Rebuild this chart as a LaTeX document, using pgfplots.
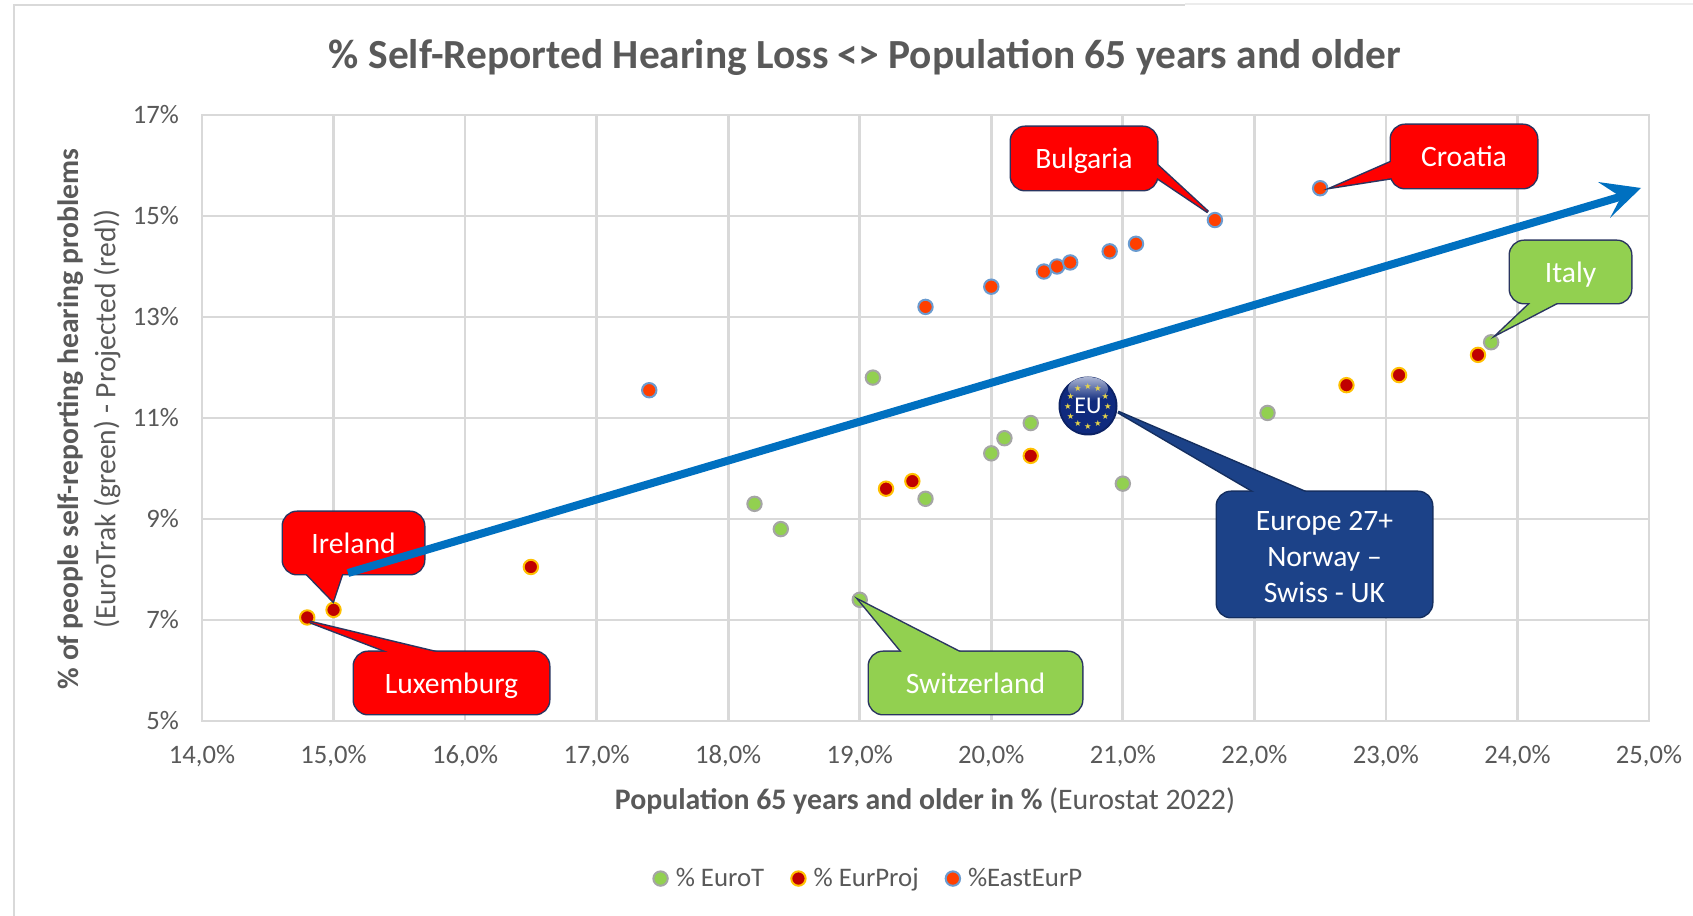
\documentclass[border=0pt]{standalone}
\usepackage{fontspec}
\usepackage{pgfplots}
\pgfplotsset{compat=1.18}
\setmainfont{Carlito}
\newfontfamily\dejavu{DejaVu Sans}
\definecolor{txt}{HTML}{595959}
\definecolor{grd}{HTML}{D9D9D9}
\definecolor{grn}{HTML}{92D050}
\definecolor{arrowblue}{HTML}{0070C0}
\definecolor{navy}{HTML}{1C4288}
\definecolor{edge}{HTML}{2A3560}
\definecolor{eub}{HTML}{0F2A7E}
\definecolor{eustar}{HTML}{E6D44A}
\definecolor{pjfill}{HTML}{C00000}
\definecolor{pjedge}{HTML}{FFC000}
\definecolor{eafill}{HTML}{FF3F00}
\definecolor{eaedge}{HTML}{6A9BD0}
\definecolor{gredge}{HTML}{A5A5A5}
\newcommand{\callout}[8]{%
  \draw[#2,line width=1.5pt,rounded corners=7pt] (#3,#4) rectangle (#5,#6);
  \draw[#2,line width=1.5pt,line join=miter] #7 -- cycle;
  \fill[#1,rounded corners=7pt] (#3,#4) rectangle (#5,#6);
  \fill[#1] #7 -- cycle;
  \node[text=white,font=\fontsize{14.8}{18}\selectfont,align=center,inner sep=0pt] at ({(#3+#5)/2},{(#4+#6)/2+3}) {#8};
}
\begin{document}
\begin{tikzpicture}
\useasboundingbox (0,0) rectangle (846.5pt,458pt);
\fill[white] (0,0) rectangle (846.5pt,458pt);
\begin{scope}[shift={(0,458pt)},x=0.5pt,y=-0.5pt]
  \draw[grd,line width=1pt] (14,916) -- (14,5) -- (1185,5);
  \draw[grd!50,line width=0.6pt] (1185,4) -- (1693,4);
\end{scope}
\begin{axis}[
  at={(101pt,97.5pt)},anchor=south west,
  scale only axis,width=723.5pt,height=303pt,
  xmin=14,xmax=25,ymin=5,ymax=17,
  xtick={14,...,25},ytick={5,7,9,11,13,15,17},
  xticklabels={14{,}0\%,15{,}0\%,16{,}0\%,17{,}0\%,18{,}0\%,19{,}0\%,20{,}0\%,21{,}0\%,22{,}0\%,23{,}0\%,24{,}0\%,25{,}0\%},
  yticklabels={5\%,7\%,9\%,11\%,13\%,15\%,17\%},
  grid=major,
  major grid style={grd,line width=1.4pt},
  axis line style={grd,line width=1.4pt},
  tick style={draw=none},
  tick label style={text=txt,font=\fontsize{13.3}{15}\selectfont},
  xticklabel style={yshift=-8.5pt},
  yticklabel style={xshift=-8pt},
  clip=false,
  legend style={at={(0.4615,-0.26)},anchor=center,draw=none,fill=none,
    font=\fontsize{13.4}{15}\selectfont,text=txt,
    legend columns=-1,
    /tikz/every even column/.append style={column sep=11.5pt},
    /tikz/every odd column/.append style={column sep=2pt}},
  legend cell align=left,
]
\addplot[only marks,mark=*,mark size=3.6pt,mark options={fill=grn,draw=gredge,line width=1pt}] coordinates {
 (19.1,11.8)(18.2,9.3)(18.4,8.8)(19.5,9.4)(19.0,7.4)(20.0,10.3)(20.1,10.6)(20.3,10.9)(21.0,9.7)(22.1,11.1)(23.8,12.5)};
\addlegendentry{\% EuroT}
\addplot[only marks,mark=*,mark size=3.6pt,mark options={fill=pjfill,draw=pjedge,line width=1pt}] coordinates {
 (14.8,7.05)(15.0,7.2)(16.5,8.05)(19.2,9.6)(19.4,9.75)(20.3,10.25)(22.7,11.65)(23.1,11.85)(23.7,12.25)};
\addlegendentry{\% EurProj}
\addplot[only marks,mark=*,mark size=3.6pt,mark options={fill=eafill,draw=eaedge,line width=1pt}] coordinates {
 (17.4,11.55)(19.5,13.2)(20.0,13.6)(20.4,13.9)(20.5,14.0)(20.6,14.08)(20.9,14.3)(21.1,14.45)(21.7,14.92)(22.5,15.55)};
\addlegendentry{\%EastEurP}
\end{axis}
\begin{scope}[shift={(0,458pt)},x=0.5pt,y=-0.5pt]
  % text
  \node[text=txt,font=\fontsize{20.7}{24}\bfseries\selectfont] at (865,57) {\% Self-Reported Hearing Loss <> Population 65 years and older};
  \node[text=txt,font=\fontsize{14.9}{18}\selectfont] at (925,801) {\textbf{Population 65 years and older in \%} (Eurostat 2022)};
  \node[text=txt,font=\fontsize{14.8}{18}\selectfont,rotate=90] at (71,419) {\textbf{\% of people self-reporting hearing problems}};
  \node[text=txt,font=\fontsize{14.8}{18}\selectfont,rotate=90] at (107,419) {(EuroTrak (green) - Projected (red))};
  % callouts
  \callout{red}{edge}{1011}{127}{1157}{190}{(1150,158.5) -- (1208,212) -- (1150,173)}{\strut Bulgaria}
  \callout{red}{edge}{1391}{125}{1537}{188}{(1398,159) -- (1334,187) -- (1398,177)}{\strut Croatia}
  \callout{grn}{edge}{1510}{241}{1631}{303}{(1538,296) -- (1499,333) -- (1570,296)}{\strut Italy}
  \callout{red}{edge}{283}{512}{424}{574}{(301,568) -- (333,601) -- (344,568)}{\strut Ireland}
  \callout{red}{edge}{354}{652}{549}{714}{(404,658) -- (310,622) -- (460,658)}{\strut Luxemburg}
  \callout{grn}{edge}{869}{652}{1082}{714}{(907,658) -- (860,601) -- (971,658)}{\strut Switzerland}
  \callout{navy}{navy!70!black}{1217}{492}{1432}{617}{(1265,498) -- (1118,412) -- (1319,498)}{Europe 27+\\Norway --\\Swiss - UK}
  % EU badge
  \fill[eub!80!black] (1088,406) circle (29.5);
  \fill[eub] (1088,406) circle (27.5);
  \shade[top color=eub!35!white,bottom color=eub] (1088,389) ellipse (20 and 12);
  \foreach \a in {0,30,...,330}
    \node[text=eustar,font=\dejavu\fontsize{4.2}{5}\selectfont,inner sep=0pt] at ({1088+20*cos(\a)},{406+20*sin(\a)}) {★};
  \node[text=white,font=\fontsize{12}{14}\selectfont,inner sep=0pt] at (1088,406) {EU};
  % trend arrow
  \draw[arrowblue,line width=4pt] (348,573) -- (1623,196);
  \fill[arrowblue] (1641,188) -- (1598,182) -- (1621,197) -- (1610,218) -- cycle;
\end{scope}
\end{tikzpicture}
\end{document}
